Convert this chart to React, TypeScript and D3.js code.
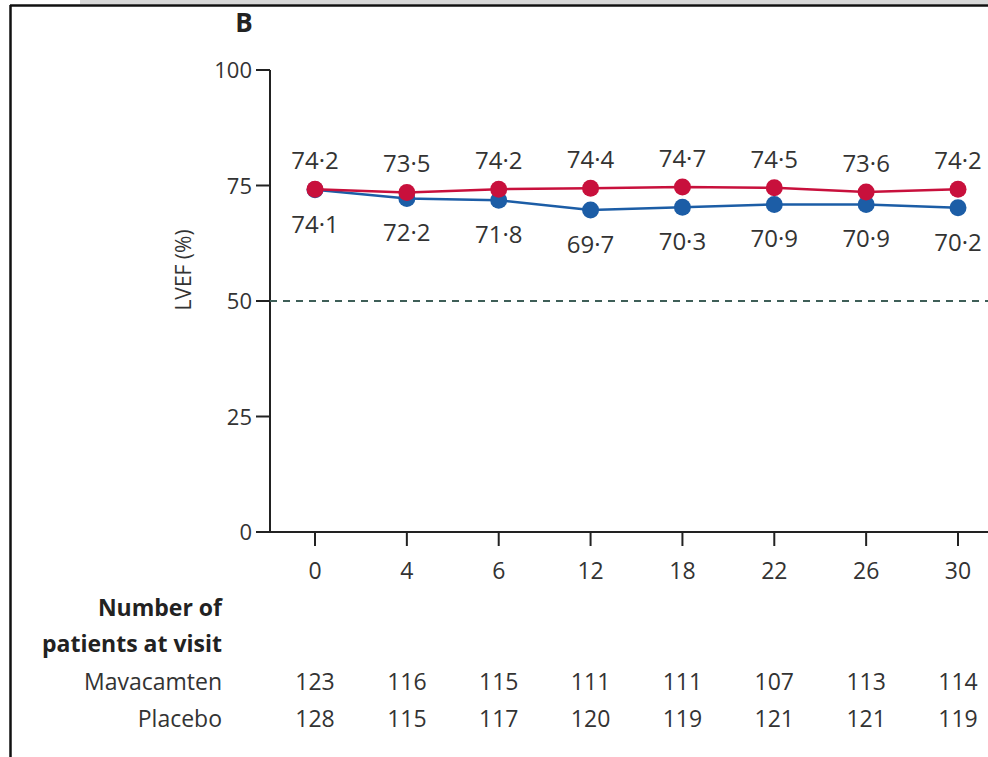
import React from "react";
import * as d3 from "d3";

const weeks = ["0", "4", "6", "12", "18", "22", "26", "30"];
const redValues = [74.2, 73.5, 74.2, 74.4, 74.7, 74.5, 73.6, 74.2];
const blueValues = [74.1, 72.2, 71.8, 69.7, 70.3, 70.9, 70.9, 70.2];
const redLabels = ["74·2", "73·5", "74·2", "74·4", "74·7", "74·5", "73·6", "74·2"];
const blueLabels = ["74·1", "72·2", "71·8", "69·7", "70·3", "70·9", "70·9", "70·2"];
const yTicks = [0, 25, 50, 75, 100];
const mavacamtenCounts = [123, 116, 115, 111, 111, 107, 113, 114];
const placeboCounts = [128, 115, 117, 120, 119, 121, 121, 119];

const W = 988;
const H = 757;
const RED = "#c8103c";
const BLUE = "#1c5da6";
const TEXT = "#333";
const FONT = "'Open Sans', sans-serif";

export default function App() {
  const x = d3.scalePoint<string>().domain(weeks).range([315, 958]);
  const y = d3.scaleLinear().domain([0, 100]).range([532, 70]);
  const axisX = 270;
  const line = d3
    .line<number>()
    .x((_, i) => x(weeks[i]) as number)
    .y((d) => y(d));

  return (
    <svg
      width={W}
      height={H}
      style={{ position: "absolute", left: 0, top: 0, background: "#fff" }}
      fontFamily={FONT}
    >
      <rect x={0} y={0} width={W} height={H} fill="#fff" />
      {/* frame */}
      <rect x={80} y={0} width={W - 80} height={4} fill="#d8d8d8" />
      <line x1={10} x2={W} y1={5.5} y2={5.5} stroke="#111" strokeWidth={2.5} />
      <line x1={10.5} x2={10.5} y1={5} y2={H} stroke="#111" strokeWidth={2.5} />

      <text x={244} y={32} fontSize={26} fontWeight="bold" fill="#222" textAnchor="middle">
        B
      </text>

      {/* y axis */}
      <line x1={axisX} x2={axisX} y1={y(100)} y2={y(0)} stroke="#222" strokeWidth={2} />
      {yTicks.map((t) => (
        <g key={t}>
          <line x1={axisX - 14} x2={axisX} y1={y(t)} y2={y(t)} stroke="#222" strokeWidth={2} />
          <text x={axisX - 18} y={y(t) + 8} fontSize={22} fill={TEXT} textAnchor="end">
            {t}
          </text>
        </g>
      ))}
      <text
        transform={`translate(191, 270) rotate(-90)`}
        fontSize={21}
        fill={TEXT}
        textAnchor="middle"
      >
        LVEF (%)
      </text>

      {/* x axis */}
      <line x1={axisX} x2={W} y1={y(0)} y2={y(0)} stroke="#222" strokeWidth={2} />
      {weeks.map((w) => (
        <g key={w}>
          <line x1={x(w)} x2={x(w)} y1={y(0)} y2={y(0) + 14} stroke="#222" strokeWidth={2} />
          <text x={x(w)} y={y(0) + 47} fontSize={23} fill={TEXT} textAnchor="middle">
            {w}
          </text>
        </g>
      ))}

      {/* reference line at 50 */}
      <line
        x1={axisX}
        x2={W}
        y1={y(50)}
        y2={y(50)}
        stroke="#3e5f58"
        strokeWidth={2}
        strokeDasharray="7,6"
      />

      {/* blue series */}
      <path d={line(blueValues) || ""} fill="none" stroke={BLUE} strokeWidth={2.5} />
      {blueValues.map((v, i) => (
        <circle key={"b" + i} cx={x(weeks[i])} cy={y(v)} r={8.5} fill={BLUE} />
      ))}
      {/* red series */}
      <path d={line(redValues) || ""} fill="none" stroke={RED} strokeWidth={2.5} />
      {redValues.map((v, i) => (
        <circle key={"r" + i} cx={x(weeks[i])} cy={y(v)} r={8.5} fill={RED} />
      ))}

      {redValues.map((v, i) => (
        <text
          key={"rl" + i}
          x={x(weeks[i])}
          y={y(v) - 20}
          fontSize={24}
          fill={TEXT}
          textAnchor="middle"
        >
          {redLabels[i]}
        </text>
      ))}
      {blueValues.map((v, i) => (
        <text
          key={"bl" + i}
          x={x(weeks[i])}
          y={y(v) + 43}
          fontSize={24}
          fill={TEXT}
          textAnchor="middle"
        >
          {blueLabels[i]}
        </text>
      ))}

      {/* number at risk table */}
      <text x={222} y={616} fontSize={23} fontWeight="bold" fill="#222" textAnchor="end">
        Number of
      </text>
      <text x={222} y={652} fontSize={23} fontWeight="bold" fill="#222" textAnchor="end">
        patients at visit
      </text>
      <text x={222} y={690} fontSize={23} fill={TEXT} textAnchor="end">
        Mavacamten
      </text>
      <text x={222} y={727} fontSize={23} fill={TEXT} textAnchor="end">
        Placebo
      </text>
      {mavacamtenCounts.map((c, i) => (
        <text key={"m" + i} x={x(weeks[i])} y={690} fontSize={23} fill={TEXT} textAnchor="middle">
          {c}
        </text>
      ))}
      {placeboCounts.map((c, i) => (
        <text key={"p" + i} x={x(weeks[i])} y={727} fontSize={23} fill={TEXT} textAnchor="middle">
          {c}
        </text>
      ))}
    </svg>
  );
}
